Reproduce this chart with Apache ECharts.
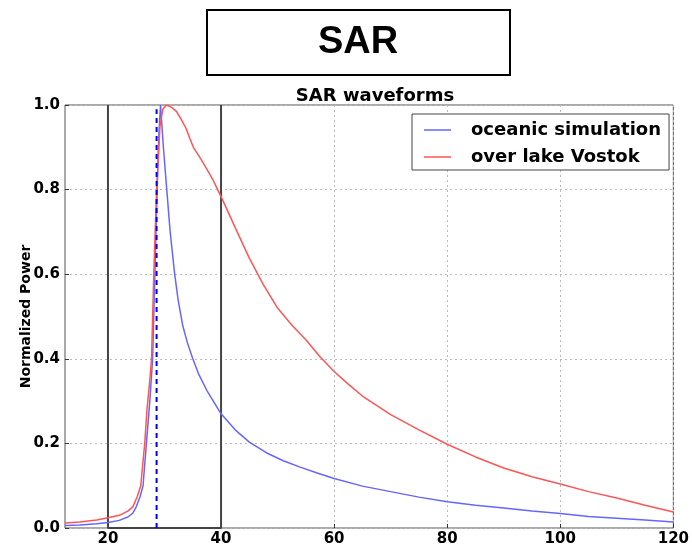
<!DOCTYPE html>
<html>
<head>
<meta charset="utf-8">
<script src="https://cdn.jsdelivr.net/npm/echarts@6/dist/echarts.min.js"></script>
<style>
  html, body { margin: 0; padding: 0; background: #fff; }
  #chart { width: 692px; height: 550px; }
</style>
</head>
<body>
<div id="chart"></div>
<script>
// waveform samples
var oceanX = [12.4, 15, 18, 20, 22, 23.5, 24.4, 25, 25.7, 26.2, 26.8, 27.4, 27.9, 28.3, 28.7, 29.0, 29.3, 29.8, 30.4, 31.0, 31.8, 32.4, 33.2, 34.0, 35.0, 36.0, 37.5, 40, 42.5, 45, 48, 51, 54, 57, 60, 65, 70, 75, 80, 85, 90, 95, 100, 105, 110, 115, 120];
var oceanY = [0.006, 0.007, 0.010, 0.013, 0.018, 0.026, 0.035, 0.05, 0.075, 0.10, 0.20, 0.30, 0.40, 0.60, 0.80, 0.93, 1.0, 0.90, 0.80, 0.70, 0.60, 0.54, 0.48, 0.44, 0.40, 0.365, 0.325, 0.27, 0.232, 0.203, 0.178, 0.159, 0.144, 0.13, 0.117, 0.099, 0.086, 0.073, 0.062, 0.054, 0.047, 0.040, 0.034, 0.027, 0.023, 0.019, 0.014];
var vostokX = [12.4, 15, 18, 20, 22, 23.5, 24.4, 25.2, 25.8, 26.5, 26.9, 27.4, 27.7, 28.1, 28.6, 29.2, 29.7, 30.3, 31.2, 32.1, 33.0, 33.8, 34.5, 35.1, 36.3, 37.4, 38.5, 39.4, 40.3, 42.5, 45, 47.5, 50, 52.5, 55, 57.5, 60, 62.5, 65, 67.5, 70, 75, 80, 85, 90, 95, 100, 105, 110, 115, 120];
var vostokY = [0.012, 0.014, 0.019, 0.024, 0.030, 0.040, 0.05, 0.075, 0.10, 0.20, 0.28, 0.35, 0.40, 0.60, 0.80, 0.95, 0.99, 1.0, 0.995, 0.985, 0.965, 0.945, 0.92, 0.90, 0.875, 0.85, 0.825, 0.80, 0.775, 0.71, 0.638, 0.575, 0.52, 0.48, 0.445, 0.405, 0.37, 0.34, 0.312, 0.29, 0.268, 0.232, 0.198, 0.168, 0.142, 0.121, 0.104, 0.086, 0.071, 0.054, 0.038];

// analysis window and retracking point
var boxX = [20, 20, 40, 40];
var boxY = [1, 0, 0, 1];
var peakX = [28.6, 28.6];
var peakY = [0, 0.99];

var xTicks = [20, 40, 60, 80, 100, 120];
var xMin = 12.4, xMax = 120;

function pairs(xs, ys) {
  return xs.map(function (x, i) { return [x, ys[i]]; });
}

var chart = echarts.init(document.getElementById('chart'));
var boldFont = { fontFamily: 'DejaVu Sans', fontWeight: 'bold', color: '#000' };

chart.setOption({
  animation: false,
  backgroundColor: '#fff',
  title: {
    text: 'SAR waveforms',
    left: 370, top: 82, textAlign: 'center',
    textStyle: { fontFamily: 'DejaVu Sans', fontWeight: 'bold', fontSize: 18, color: '#000' }
  },
  graphic: [
    { type: 'rect', shape: { x: 207, y: 10, width: 303, height: 65 },
      style: { fill: '#fff', stroke: '#000', lineWidth: 2 } },
    { type: 'text', x: 358, y: 43,
      style: { text: 'SAR', font: 'bold 38px "Liberation Sans", Arial', fill: '#000', textAlign: 'center', textVerticalAlign: 'middle' } }
  ],
  grid: { left: 65, right: 16, top: 105, bottom: 22, show: true, borderColor: '#555', borderWidth: 1 },
  legend: {
    orient: 'vertical', left: 412, top: 114,
    backgroundColor: '#fff', borderColor: '#444', borderWidth: 1,
    padding: [6, 8, 3, 12], itemGap: 7,
    icon: 'rect', itemWidth: 27, itemHeight: 1.5,
    textStyle: { fontFamily: 'DejaVu Sans', fontWeight: 'bold', fontSize: 18, color: '#000', padding: [0, 0, 0, 15], lineHeight: 20 },
    data: ['oceanic simulation', 'over lake Vostok']
  },
  xAxis: {
    type: 'value', min: xMin, max: xMax,
    axisLine: { show: false },
    axisTick: { show: true, inside: true, length: 4, customValues: xTicks, lineStyle: { color: '#333' } },
    axisLabel: Object.assign({ fontSize: 15, margin: 4, customValues: xTicks }, boldFont),
    splitLine: { show: true, lineStyle: { color: '#bbb', type: [2, 3], width: 1 } }
  },
  yAxis: {
    type: 'value', min: 0, max: 1, interval: 0.2,
    name: 'Normalized Power', nameLocation: 'middle', nameGap: 32, nameMoveOverlap: false,
    nameTextStyle: { fontFamily: 'DejaVu Sans', fontWeight: 'bold', fontSize: 14, color: '#000' },
    axisLine: { show: false },
    axisTick: { show: true, inside: true, length: 4, lineStyle: { color: '#333' } },
    axisLabel: Object.assign({ fontSize: 15, margin: 5, formatter: function (v) { return v.toFixed(1); } }, boldFont),
    splitLine: { show: true, lineStyle: { color: '#bbb', type: [2, 3], width: 1 } }
  },
  series: [
    { name: 'box', type: 'line', data: pairs(boxX, boxY), showSymbol: false, silent: true,
      lineStyle: { color: '#444', width: 2 }, z: 3 },
    { name: 'oceanic simulation', type: 'line', data: pairs(oceanX, oceanY), showSymbol: false,
      itemStyle: { color: '#6666ff' }, lineStyle: { color: '#6666ff', width: 1.5 }, z: 4 },
    { name: 'over lake Vostok', type: 'line', data: pairs(vostokX, vostokY), showSymbol: false,
      itemStyle: { color: '#ff5555' }, lineStyle: { color: '#ff5555', width: 1.5 }, z: 4 },
    { name: 'peak', type: 'line', data: pairs(peakX, peakY), showSymbol: false, silent: true,
      lineStyle: { color: '#0000ff', width: 2, type: [5, 4] }, z: 5 }
  ]
});
</script>
</body>
</html>
